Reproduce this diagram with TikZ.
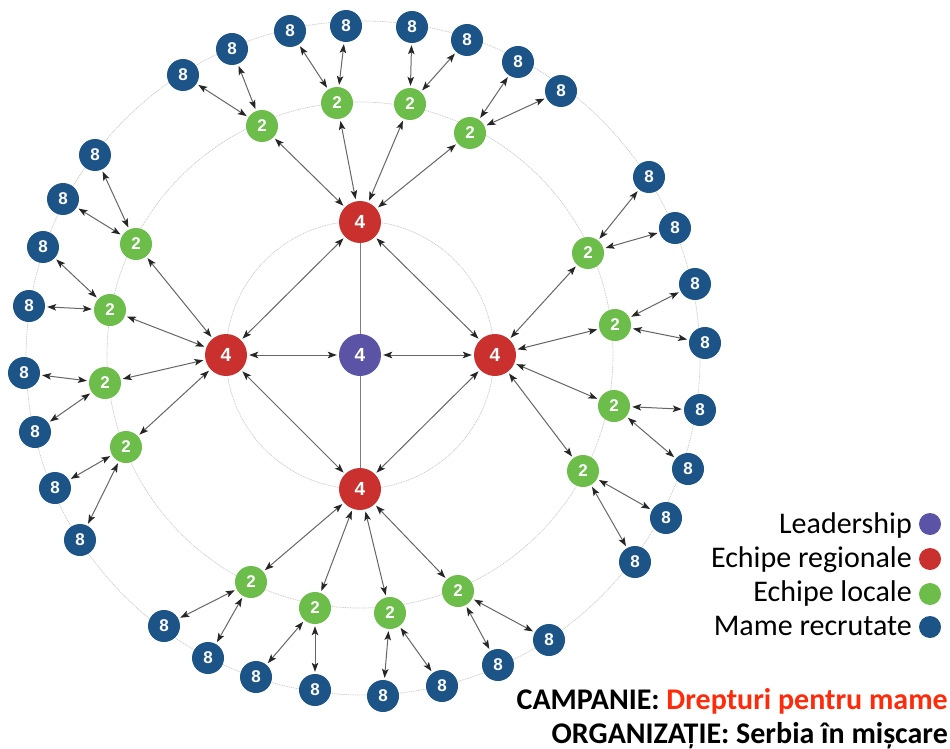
\documentclass[tikz,border=0pt]{standalone}
\usepackage{fontspec}
\setmainfont{Carlito}
\newfontfamily\numfont{Liberation Sans}
\usetikzlibrary{arrows.meta}
\definecolor{cpurple}{HTML}{5B53A6}
\definecolor{cred}{HTML}{C9302E}
\definecolor{cgreen}{HTML}{6CBD4A}
\definecolor{cblue}{HTML}{1C5487}
\definecolor{corange}{HTML}{FF2A0A}
\definecolor{cline}{HTML}{666666}
\definecolor{ccirc}{HTML}{C8C8C8}
\tikzset{
  big/.style={circle,inner sep=0pt,minimum size=42pt,text=white,font=\numfont\bfseries\fontsize{19}{19}\selectfont},
  small/.style={circle,inner sep=0pt,minimum size=32pt,text=white,font=\numfont\bfseries\fontsize{17}{17}\selectfont},
  lead/.style={big,fill=cpurple},
  reg/.style={big,fill=cred},
  loc/.style={small,fill=cgreen},
  mom/.style={small,fill=cblue},
  dbl/.style={draw=cline,line width=1pt,{Stealth[length=9pt,width=6.5pt,inset=2pt,color=black!85]}-{Stealth[length=9pt,width=6.5pt,inset=2pt,color=black!85]},shorten <=2pt,shorten >=2pt},
  plain/.style={draw=cline!85,line width=1pt},
  ring/.style={draw=ccirc,line width=0.7pt,dash pattern=on 1pt off 0.8pt},
  legtext/.style={anchor=base east,inner sep=0pt,font=\fontsize{30}{30}\selectfont},
  legdot/.style={circle,inner sep=0pt,minimum size=22pt},
  captext/.style={anchor=base east,inner sep=0pt,font=\bfseries\fontsize{30}{30}\selectfont}
}
\begin{document}
\begin{tikzpicture}[x=1pt,y=-1pt]
\useasboundingbox (0,0) rectangle (950,749);
\fill[white] (0,0) rectangle (950,749);
% rings
\draw[ring] (360,355) circle[radius=134pt];
\draw[ring] (360,355) circle[radius=253pt];
\draw[ring] (363,358) circle[radius=337pt];
% nodes
\node[lead] (c) at (360,355) {4};
\node[reg] (rt) at (360,222) {4};
\node[reg] (rl) at (226,355) {4};
\node[reg] (rr) at (495,355) {4};
\node[reg] (rb) at (360,489) {4};
\foreach \n/\x/\y in {gt1/262/126,gt2/337/103,gt3/410/104,gt4/470/133,
  gr1/588/253,gr2/615/325,gr3/614/406,gr4/583/471,
  gb1/458/591,gb2/390/613,gb3/315/608,gb4/251/582,
  gl1/126/447,gl2/105/383,gl3/110/310,gl4/136/244}
  \node[loc] (\n) at (\x,\y) {2};
\foreach \n/\x/\y in {b1/183/75,b2/232/49,b3/290/31,b4/346/26,b5/412/27,b6/467/40,b7/518/62,b8/561/91,
  b9/649/177,b10/675/228,b11/695/284,b12/705/343,b13/700/410,b14/688/469,b15/666/518,b16/635/562,
  b17/549/640,b18/498/665,b19/442/686,b20/383/696,b21/315/690,b22/256/677,b23/208/658,b24/164/626,
  b25/80/540,b26/55/488,b27/35/432,b28/24/373,b29/29/306,b30/43/247,b31/63/199,b32/95/155}
  \node[mom] (\n) at (\x,\y) {8};
% connectors
\draw[plain] (c) -- (rt);
\draw[plain] (c) -- (rb);
\foreach \a/\b in {c/rl,c/rr,rt/rl,rt/rr,rb/rl,rb/rr,
  rt/gt1,rt/gt2,rt/gt3,rt/gt4,rr/gr1,rr/gr2,rr/gr3,rr/gr4,
  rb/gb1,rb/gb2,rb/gb3,rb/gb4,rl/gl1,rl/gl2,rl/gl3,rl/gl4,
  gt1/b1,gt1/b2,gt2/b3,gt2/b4,gt3/b5,gt3/b6,gt4/b7,gt4/b8,
  gr1/b9,gr1/b10,gr2/b11,gr2/b12,gr3/b13,gr3/b14,gr4/b15,gr4/b16,
  gb1/b17,gb1/b18,gb2/b19,gb2/b20,gb3/b21,gb3/b22,gb4/b23,gb4/b24,
  gl1/b25,gl1/b26,gl2/b27,gl2/b28,gl3/b29,gl3/b30,gl4/b31,gl4/b32}
  \draw[dbl] (\a) -- (\b);
% legend
\node[legtext] (l1) at (912,533) {Leadership};
\node[legtext] (l2) at (912,567) {Echipe regionale};
\node[legtext] (l3) at (912,601) {Echipe locale};
\node[legtext] (l4) at (912,635) {Mame recrutate};
\node[legdot,fill=cpurple] (d1) at (930,524) {};
\node[legdot,fill=cred] (d2) at (930,559) {};
\node[legdot,fill=cgreen] (d3) at (930,594) {};
\node[legdot,fill=cblue] (d4) at (930,627) {};
% captions
\node[captext] (t1) at (948,709) {CAMPANIE: \textcolor{corange}{Drepturi pentru mame}};
\node[captext] (t2) at (948,743) {ORGANIZAȚIE: Serbia în mișcare};
\end{tikzpicture}
\end{document}
